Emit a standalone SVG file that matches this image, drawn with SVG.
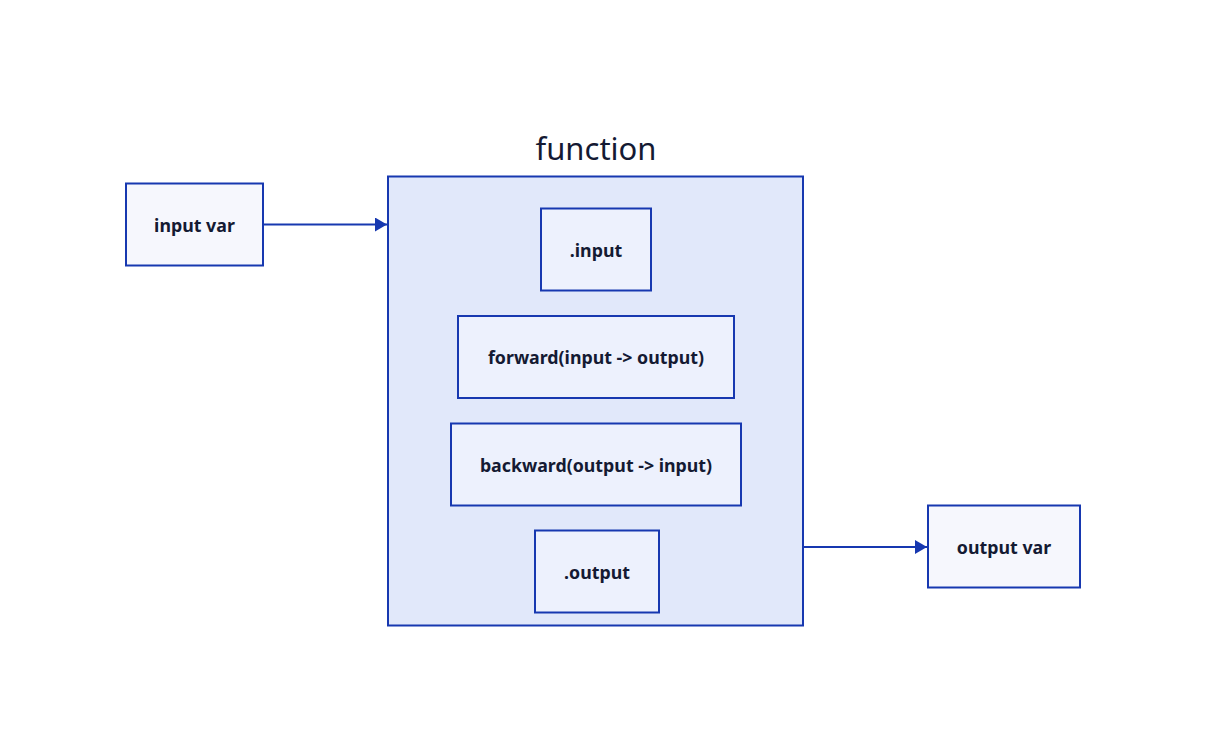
<svg xmlns="http://www.w3.org/2000/svg" width="1206" height="752" viewBox="0 0 1206 752">
<defs>
<style>
.box{stroke:#1738b0;stroke-width:2}
.outer{fill:#f6f7fd}
.inner{fill:#edf1fd}
.lbl{font-family:"Noto Sans","Open Sans",sans-serif;font-weight:bold;font-size:17.8px;fill:#141a33;text-anchor:middle;dominant-baseline:central}
.title{font-family:"Noto Sans","Open Sans",sans-serif;font-size:31px;fill:#141a33;text-anchor:middle}
.conn{stroke:#1738b0;stroke-width:2;fill:none}
</style>
<marker id="arr" markerWidth="14" markerHeight="14" refX="12" refY="7" orient="auto" markerUnits="userSpaceOnUse">
<path d="M0,0 L12,7 L0,14 Z" fill="#1738b0"/>
</marker>
</defs>
<rect width="1206" height="752" fill="#ffffff"/>
<g id="function">
<rect class="box" x="388" y="176.5" width="415" height="449" fill="#e1e8fa"/>
<text class="title" x="596" y="160">function</text>
</g>
<g id="input-var">
<rect class="box outer" x="126" y="183.5" width="137" height="82"/>
<text class="lbl" x="194.5" y="225">input var</text>
</g>
<g id="dot-input">
<rect class="box inner" x="541" y="208.5" width="110" height="82"/>
<text class="lbl" x="596" y="250">.input</text>
</g>
<g id="forward">
<rect class="box inner" x="458" y="316" width="276" height="82"/>
<text class="lbl" x="596" y="357">forward(input -&gt; output)</text>
</g>
<g id="backward">
<rect class="box inner" x="451" y="423.5" width="290" height="82"/>
<text class="lbl" x="596" y="465">backward(output -&gt; input)</text>
</g>
<g id="dot-output">
<rect class="box inner" x="535" y="530.5" width="124" height="82"/>
<text class="lbl" x="597" y="572">.output</text>
</g>
<g id="output-var">
<rect class="box outer" x="928" y="505.5" width="152" height="82"/>
<text class="lbl" x="1004" y="547">output var</text>
</g>
<g id="connectors">
<line class="conn" x1="264" y1="224.5" x2="387" y2="224.5" marker-end="url(#arr)"/>
<line class="conn" x1="804" y1="547" x2="927" y2="547" marker-end="url(#arr)"/>
</g>
</svg>
